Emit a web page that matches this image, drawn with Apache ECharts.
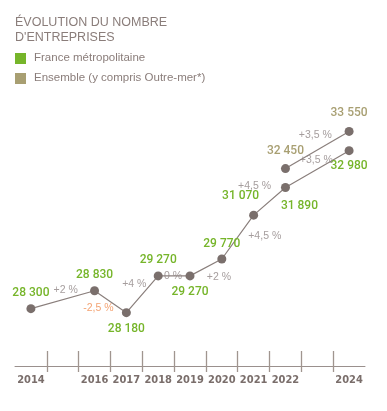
<!DOCTYPE html>
<html>
<head>
<meta charset="utf-8">
<script src="https://cdn.jsdelivr.net/npm/echarts@6/dist/echarts.min.js"></script>
<style>
html,body{margin:0;padding:0;background:#fff;}
#c{width:387px;height:411px;}
</style>
</head>
<body>
<div id="c"></div>
<script>
// ---- data ----
const yearLabels = [2014, 2016, 2017, 2018, 2019, 2020, 2021, 2022, 2024];
const metroYears = [2014, 2016, 2017, 2018, 2019, 2020, 2021, 2022, 2024];
const metroValues = [28300, 28830, 28180, 29270, 29270, 29770, 31070, 31890, 32980];
const metroChanges = ['+2 %', '-2,5 %', '+4 %', '0 %', '+2 %', '+4,5 %', '+4,5 %', '+3,5 %'];
const ensYears = [2022, 2024];
const ensValues = [32450, 33550];
const ensChanges = ['+3,5 %'];

// ---- styles ----
const GREEN = '#76b52a', KHAKI = '#a89f72', LINE = '#8a7f7c', DOT = '#7a6f6c', TXT = '#8a7d7a', PCT = '#8f8584', ORANGE = '#f08c50';
const metroLabelPos = [
  {position:'top', distance:5}, {position:'top', distance:5}, {position:'bottom', distance:6},
  {position:'top', distance:5}, {position:'bottom', distance:6}, {position:'top', distance:5},
  {position:'top', distance:6, offset:[-13,-3]}, {position:'bottom', distance:6, offset:[14,2]},
  {position:'bottom', distance:5}
];
const ensLabelPos = [{position:'top', distance:7}, {position:'top', distance:8}];
const metroPctOffsets = [[3,-10],[-12,6],[-8,-10],[-1,0],[13,10],[27,-1],[-15,-15],[-1,-9]];
const ensPctOffsets = [[-2,-15]];

const fmt = v => String(v).replace(/\B(?=(\d{3})+(?!\d))/g, ' ');
const valueLabel = (color) => ({show:true, color:color, fontFamily:'Roboto', fontWeight:500, fontSize:12, formatter: p => fmt(p.value[1])});

function pointData(years, values, pos){
  return years.map((y,i)=>({value:[y, values[i]], label: pos[i]}));
}
function pctData(years, values, texts, offs, colorFn){
  return texts.map((t,i)=>({
    value:[(years[i]+years[i+1])/2, (values[i]+values[i+1])/2, t],
    label:{offset:offs[i], color: colorFn(t)}
  }));
}
const pctColor = t => t.charAt(0)==='-' ? ORANGE : PCT;

const ticks = [];
for (let y = 2014.5; y < 2024; y += 1) ticks.push(y);

const chart = echarts.init(document.getElementById('c'));
chart.setOption({
  animation:false,
  title:{text:"ÉVOLUTION DU NOMBRE\nD'ENTREPRISES", left:15, top:15, padding:0,
    textStyle:{fontFamily:'Liberation Sans', fontSize:12.5, fontWeight:'normal', color:TXT, lineHeight:15}},
  graphic:[
    {type:'rect', left:15, top:53, shape:{width:11, height:11}, style:{fill:GREEN}},
    {type:'text', left:34, top:52, style:{text:'France métropolitaine', fontFamily:'Liberation Sans', fontSize:11.5, fill:TXT}},
    {type:'rect', left:15, top:73, shape:{width:11, height:11}, style:{fill:KHAKI}},
    {type:'text', left:34, top:72, style:{text:'Ensemble (y compris Outre-mer*)', fontFamily:'Liberation Sans', fontSize:11.5, fill:TXT}}
  ],
  grid:{left:15, right:22, top:96, bottom:45, containLabel:false},
  xAxis:[
    {type:'value', min:2013.5, max:2024.5, position:'bottom',
     axisLine:{show:true, lineStyle:{color:'#9a908d', width:1}},
     axisTick:{show:true, customValues:ticks, length:6, lineStyle:{color:'#a0958f', width:1.3}},
     axisLabel:{show:true, customValues:yearLabels, margin:9, formatter: v => String(Math.round(v)),
       fontFamily:'"DejaVu Sans Condensed", "DejaVu Sans", sans-serif', fontWeight:'bold', fontSize:11, color:'#7a6e6b'},
     splitLine:{show:false}},
    {type:'value', min:2013.5, max:2024.5, position:'bottom', offset:0,
     axisLine:{show:false},
     axisTick:{show:true, inside:true, customValues:ticks, length:15, lineStyle:{color:'#a0958f', width:1.3}},
     axisLabel:{show:false}, splitLine:{show:false}}
  ],
  yAxis:{type:'value', min:26600, max:34600, show:false, splitLine:{show:false}},
  series:[
    {type:'line', name:'France métropolitaine', data:pointData(metroYears, metroValues, metroLabelPos),
     symbol:'circle', symbolSize:9, lineStyle:{color:LINE, width:1.2}, itemStyle:{color:DOT},
     label:valueLabel(GREEN), z:3},
    {type:'line', name:'Ensemble', data:pointData(ensYears, ensValues, ensLabelPos),
     symbol:'circle', symbolSize:9, lineStyle:{color:LINE, width:1.2}, itemStyle:{color:DOT},
     label:valueLabel(KHAKI), z:3},
    {type:'scatter', data:pctData(metroYears, metroValues, metroChanges, metroPctOffsets, pctColor)
       .concat(pctData(ensYears, ensValues, ensChanges, ensPctOffsets, pctColor)),
     symbolSize:1, itemStyle:{color:'rgba(0,0,0,0)'}, silent:true, z:4,
     label:{show:true, position:'inside', fontFamily:'Liberation Sans', fontSize:10.5,
       formatter: p => p.value[2]}}
  ]
});
</script>
</body>
</html>
